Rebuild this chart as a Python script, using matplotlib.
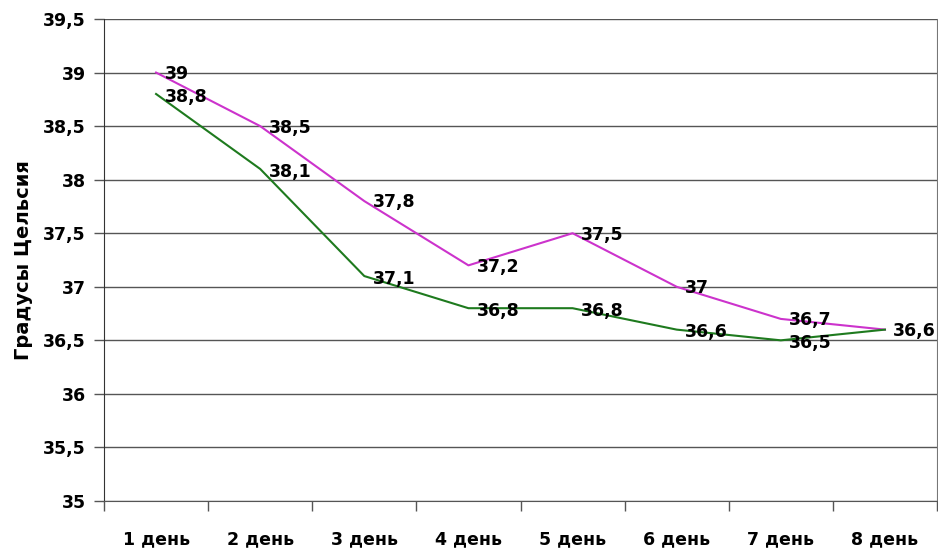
import matplotlib
matplotlib.use("Agg")
import matplotlib.pyplot as plt
from matplotlib.ticker import FuncFormatter, MultipleLocator

DAYS = ["1 день", "2 день", "3 день", "4 день", "5 день", "6 день", "7 день", "8 день"]
TEMP_A = [39.0, 38.5, 37.8, 37.2, 37.5, 37.0, 36.7, 36.6]
TEMP_B = [38.8, 38.1, 37.1, 36.8, 36.8, 36.6, 36.5, 36.6]

COLOR_A = "#CC33CC"
COLOR_B = "#1E7A1E"


def comma(v, pos=None):
    s = f"{v:g}"
    return s.replace(".", ",")


def main():
    plt.rcParams["font.family"] = ["DejaVu Sans"]
    plt.rcParams["font.weight"] = "bold"

    fig = plt.figure(figsize=(9.38, 5.49), dpi=100)
    ax = fig.add_axes([104 / 938, 48 / 549, 833 / 938, 482 / 549])

    x = [i + 0.5 for i in range(len(DAYS))]
    ax.plot(x, TEMP_A, color=COLOR_A, lw=1.5, zorder=3)
    ax.plot(x, TEMP_B, color=COLOR_B, lw=1.5, zorder=3)

    for xi, a, b in zip(x, TEMP_A, TEMP_B):
        ax.annotate(comma(a), (xi, a), xytext=(6, -1), textcoords="offset points",
                    ha="left", va="center", fontsize=12.5, fontweight="bold", zorder=4)
        if b != a:
            ax.annotate(comma(b), (xi, b), xytext=(6, -2), textcoords="offset points",
                        ha="left", va="center", fontsize=12.5, fontweight="bold", zorder=4)

    ax.set_xlim(0, len(DAYS))
    ax.set_ylim(35, 39.5)
    ax.yaxis.set_major_locator(MultipleLocator(0.5))
    ax.yaxis.set_major_formatter(FuncFormatter(comma))
    ax.set_xticks(range(len(DAYS) + 1))
    ax.set_xticklabels([])
    ax.set_xticks(x, minor=True)
    ax.set_xticklabels(DAYS, minor=True)
    ax.tick_params(axis="x", which="minor", length=0, pad=21, labelsize=12.5)
    ax.tick_params(axis="x", which="major", length=7, width=1, color="#555555")
    ax.tick_params(axis="y", length=7, width=1, color="#555555", labelsize=12.5, pad=6)

    ax.grid(axis="y", color="#555555", lw=1)
    ax.set_axisbelow(True)
    ax.spines["top"].set_visible(False)
    ax.spines["right"].set_color("#777777")
    ax.spines["left"].set_color("#333333")
    ax.spines["bottom"].set_color("#555555")

    ax.set_ylabel("Градусы Цельсия", fontsize=14, fontweight="bold", labelpad=7)

    fig.savefig("out.png", dpi=100)


if __name__ == "__main__":
    main()
